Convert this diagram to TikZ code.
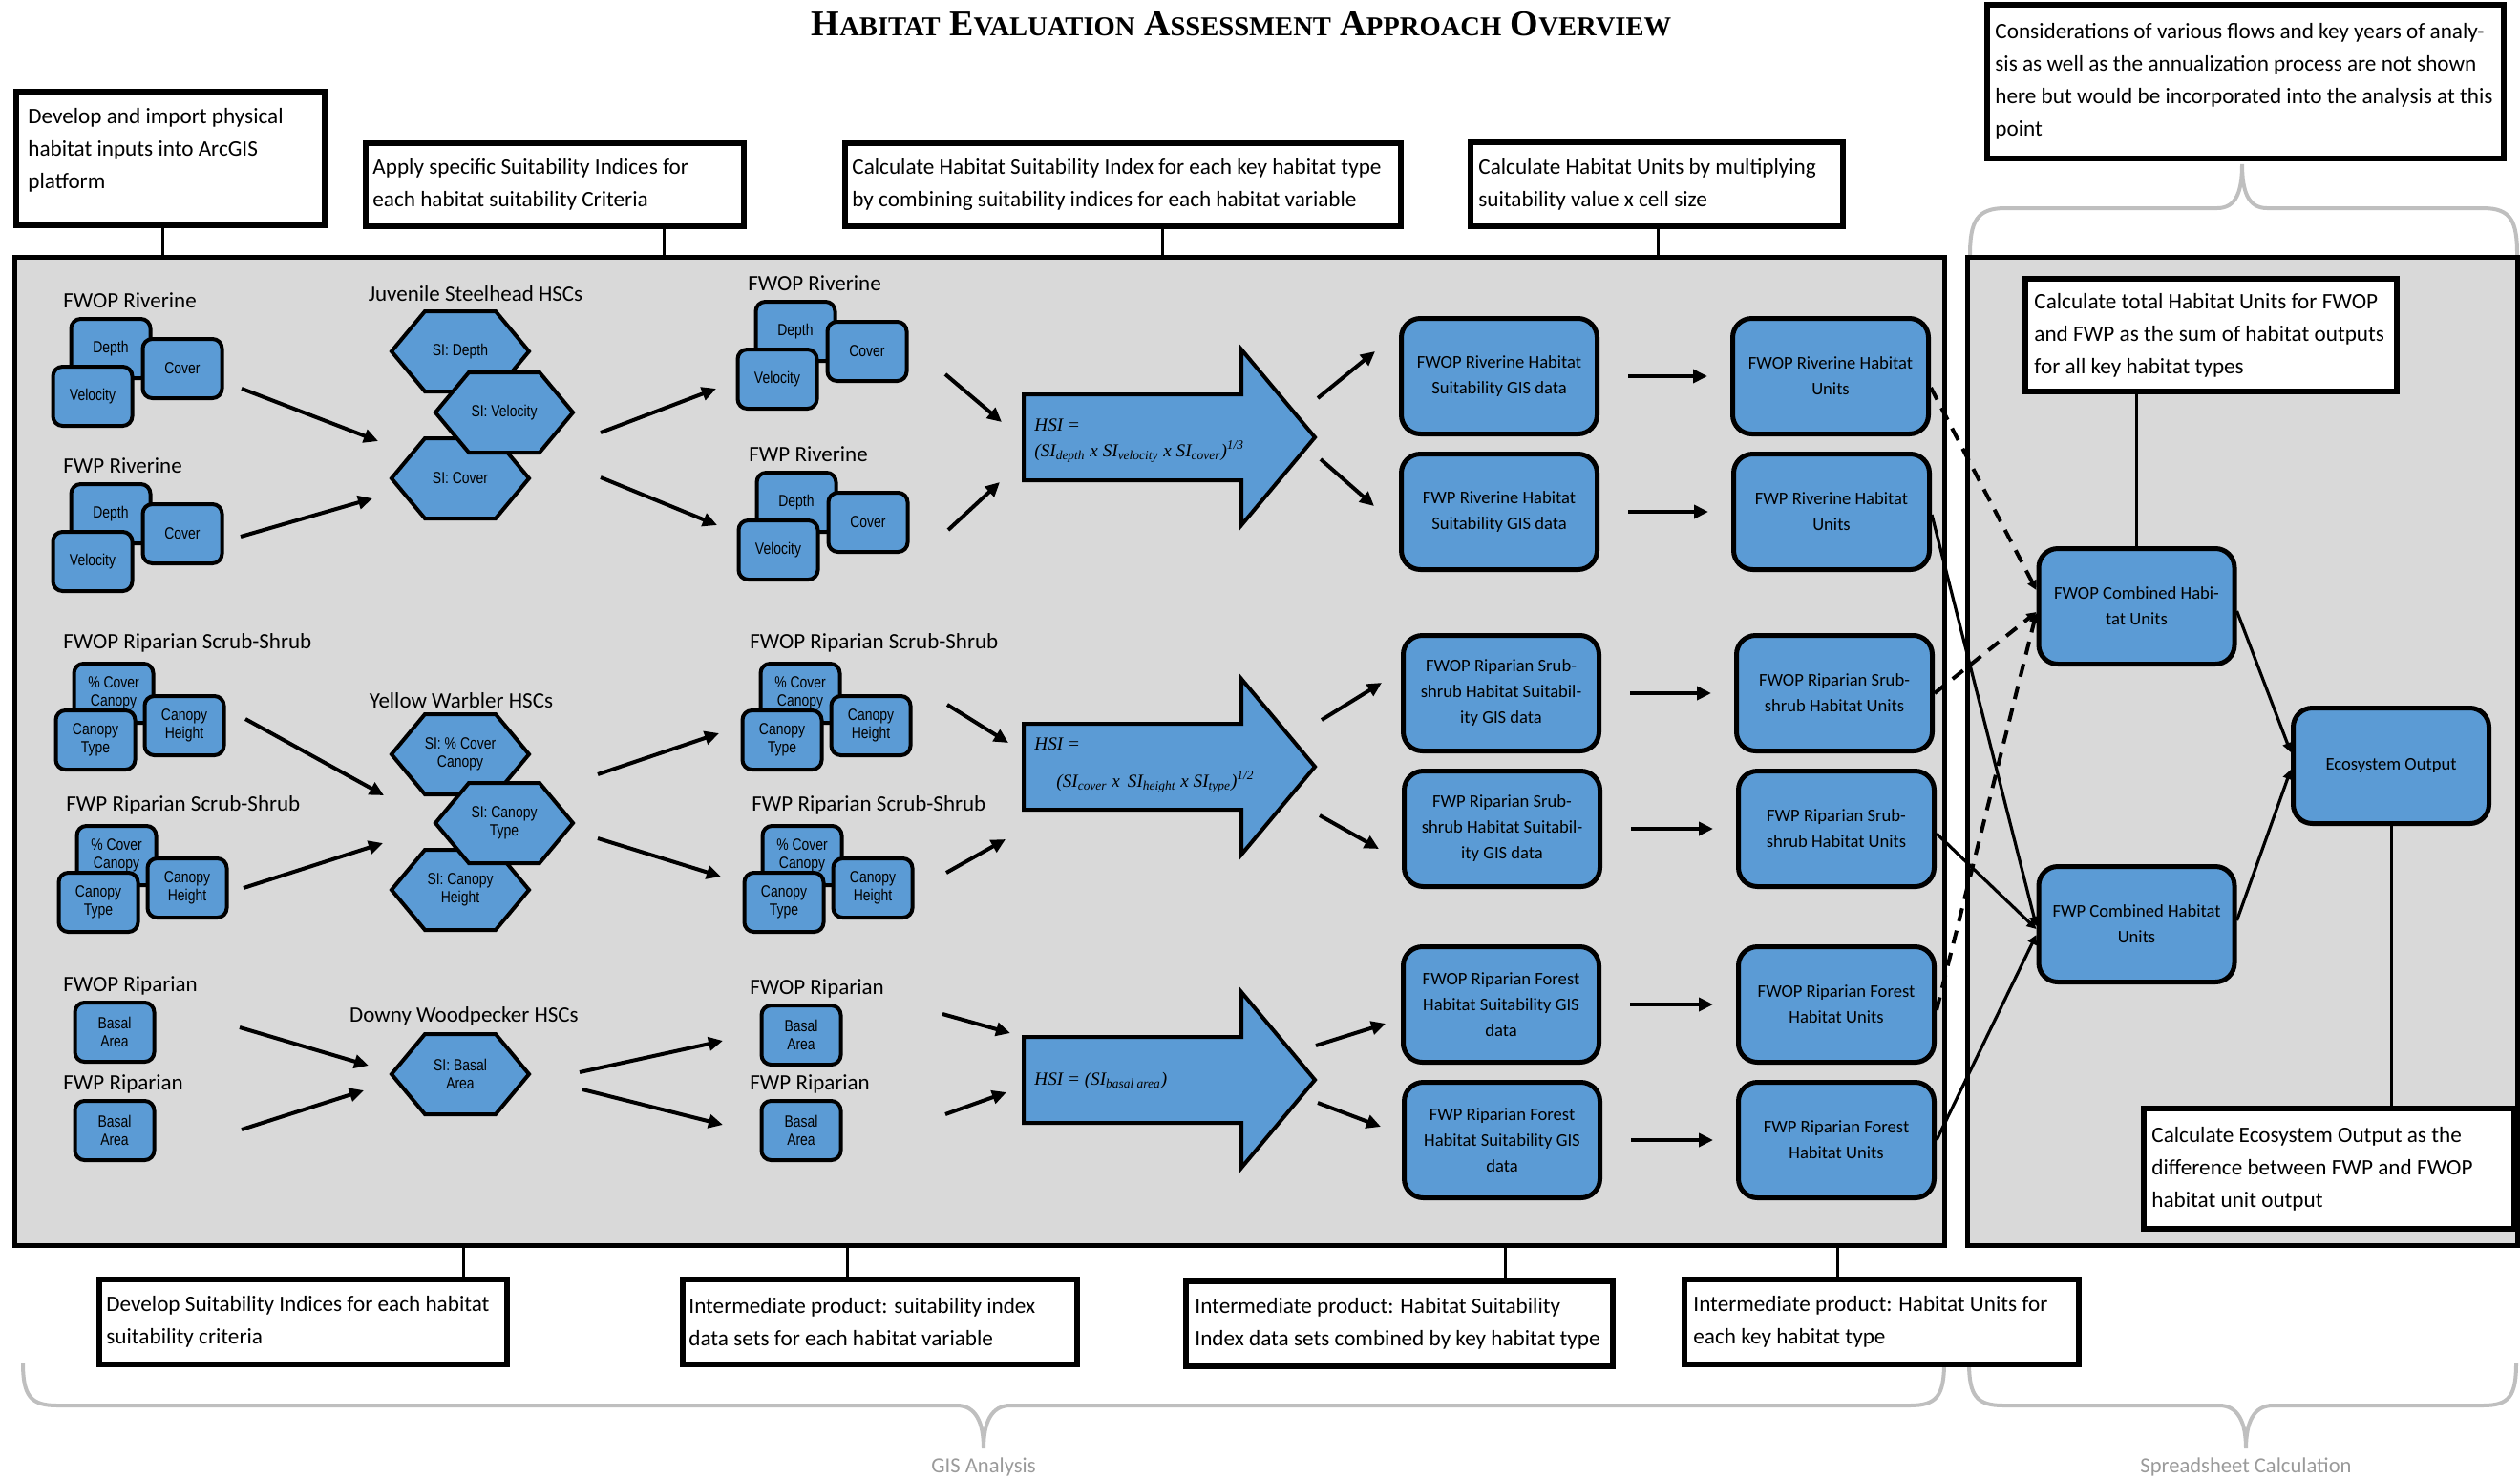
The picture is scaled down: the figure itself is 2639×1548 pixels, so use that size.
\documentclass[tikz,border=0pt]{standalone}
\usepackage{fontspec}
\setmainfont{Carlito}
\newfontfamily\narrowf[FakeStretch=0.82]{Liberation Sans}
\newfontfamily\titlef{Liberation Serif}
\newfontfamily\formulaf{Liberation Serif}
\usetikzlibrary{arrows.meta,calc}
\definecolor{panelgray}{HTML}{D9D9D9}
\definecolor{hblue}{HTML}{5B9BD5}
\definecolor{bracegray}{HTML}{BFBFBF}
\definecolor{labelgray}{HTML}{9A9A9A}
\newcommand{\tsmall}[1]{{\fontsize{14.3}{19}\selectfont #1}}
\tikzset{
 gisbg/.style={draw, line width=2.5pt, fill=panelgray},
 notebox/.style={draw, line width=3pt, fill=white},
 notetext/.style={anchor=west, inner sep=0pt, align=left, font=\fontsize{11.6}{17}\selectfont},
 grplabel/.style={anchor=west, inner sep=0pt, font=\fontsize{11.5}{13}\selectfont},
 smallbox/.style={draw, line width=2pt, fill=hblue, rounded corners=5pt, minimum width=41.5pt, minimum height=31pt, align=center, font=\narrowf\fontsize{8.5}{9.5}\selectfont, inner sep=1pt},
 hextext/.style={align=center, inner sep=0pt, font=\narrowf\fontsize{8.5}{9.5}\selectfont},
 hexshape/.style={draw, line width=2pt, fill=hblue, line join=miter},
 bigbox/.style={draw, line width=2.5pt, fill=hblue, rounded corners=10pt, minimum width=102.5pt, minimum height=60.5pt, align=center, font=\fontsize{9.3}{13.5}\selectfont, inner sep=2pt},
 arr/.style={line width=2pt, -{Triangle[length=7.5pt,width=7pt]}},
 thinarr/.style={line width=1.6pt, -{Triangle[length=5pt,width=5pt]}},
 dasharr/.style={thinarr, line width=2pt, dash pattern=on 7pt off 5pt},
 link/.style={line width=1.5pt},
 bracepath/.style={draw=bracegray, line width=2pt},
 bracelabel/.style={text=labelgray, inner sep=0pt, font=\fontsize{11.3}{13}\selectfont},
 blockarrow/.style={draw, line width=2pt, fill=hblue, line join=miter},
 formula/.style={anchor=west, inner sep=0pt, font=\formulaf\itshape\fontsize{9.6}{11}\selectfont},
}
\newcommand{\rivgrp}[4]{%
  \node[grplabel] (#1lab) at (#2,#3) {#4};
  \node[smallbox] (#1d) at ({#2+50},{#3+50}) {Depth};
  \node[smallbox] (#1c) at ({#2+125},{#3+71}) {Cover};
  \node[smallbox] (#1v) at ({#2+31},{#3+100}) {Velocity};
}
\newcommand{\scrgrp}[4]{%
  \node[grplabel] (#1lab) at (#2,#3) {#4};
  \node[smallbox] (#1p) at ({#2+53},{#3+53}) {\% Cover\\Canopy};
  \node[smallbox] (#1h) at ({#2+127},{#3+87}) {Canopy\\Height};
  \node[smallbox] (#1t) at ({#2+34},{#3+102}) {Canopy\\Type};
}
\newcommand{\forgrp}[4]{%
  \node[grplabel] (#1lab) at (#2,#3) {#4};
  \node[smallbox] (#1b) at ({#2+54},{#3+49}) {Basal\\Area};
}
\newcommand{\hexnode}[4]{%
  \path[hexshape] ({#2-72},#3) -- ({#2-37},{#3-42}) -- ({#2+37},{#3-42}) -- ({#2+72},#3) -- ({#2+37},{#3+42}) -- ({#2-37},{#3+42}) -- cycle;
  \node[hextext] (#1) at (#2,#3) {#4};
}
\newcommand{\blockarr}[1]{%
  \path[blockarrow] (1072,{#1-45}) -- (1300,{#1-45}) -- (1300,{#1-92}) -- (1377,#1) -- (1300,{#1+92}) -- (1300,{#1+45}) -- (1072,{#1+45}) -- cycle;
}
\begin{document}
\begin{tikzpicture}[x=0.5pt,y=-0.5pt]
\useasboundingbox (0,0) rectangle (2639,1548);
% title
\node[anchor=base, inner sep=0pt, font=\titlef\bfseries\fontsize{19}{19}\selectfont] (title) at (1300,37)
 {H\tsmall{ABITAT} E\tsmall{VALUATION} A\tsmall{SSESSMENT} A\tsmall{PPROACH} O\tsmall{VERVIEW}};
% braces
\path[bracepath] (2063,267) .. controls (2063,232) and (2070,218) .. (2100,218) -- (2322,218) .. controls (2342,218) and (2348,200) .. (2348,172) .. controls (2348,200) and (2354,218) .. (2374,218) -- (2600,218) .. controls (2630,218) and (2636,232) .. (2636,267);
\path[bracepath] (24,1427) .. controls (24,1462) and (32,1472) .. (60,1472) -- (1002,1472) .. controls (1022,1472) and (1030,1490) .. (1030,1517) .. controls (1030,1490) and (1038,1472) .. (1058,1472) -- (2000,1472) .. controls (2028,1472) and (2036,1462) .. (2036,1427);
\path[bracepath] (2062,1427) .. controls (2062,1462) and (2070,1472) .. (2098,1472) -- (2324,1472) .. controls (2344,1472) and (2352,1490) .. (2352,1517) .. controls (2352,1490) and (2360,1472) .. (2380,1472) -- (2600,1472) .. controls (2628,1472) and (2635,1462) .. (2635,1427);
\node[bracelabel] (gislab) at (1030,1536) {GIS Analysis};
\node[bracelabel] (sslab) at (2352,1536) {Spreadsheet Calculation};
% panels
\node[gisbg, minimum width=1010.5pt, minimum height=517.5pt] (gis) at (1025.5,786.5) {};
\node[gisbg, minimum width=288pt, minimum height=517.5pt] (ss) at (2348,786.5) {};
% top notes
\node[notebox, minimum width=161.5pt, minimum height=70pt] (n1) at (178.5,166) {};
\node[notetext] (n1t) at ([xshift=7.5pt, yshift=4.5pt]n1.west) {Develop and import physical\\habitat inputs into ArcGIS\\platform};
\node[notebox, minimum width=198pt, minimum height=43.5pt] (n2) at (581,193.5) {};
\node[notetext] (n2t) at ([xshift=5pt]n2.west) {Apply specific Suitability Indices for\\each habitat suitability Criteria};
\node[notebox, minimum width=291pt, minimum height=43.5pt] (n3) at (1176,193.5) {};
\node[notetext] (n3t) at ([xshift=5pt]n3.west) {Calculate Habitat Suitability Index for each key habitat type\\by combining suitability indices for each habitat variable};
\node[notebox, minimum width=195pt, minimum height=44pt] (n4) at (1735,193) {};
\node[notetext] (n4t) at ([xshift=5.5pt]n4.west) {Calculate Habitat Units by multiplying\\suitability value x cell size};
\node[notebox, minimum width=270.5pt, minimum height=80.5pt] (n5) at (2351.5,85.5) {};
\node[notetext] (n5t) at ([xshift=5.5pt]n5.west) {Considerations of various flows and key years of analy-\\sis as well as the annualization process are not shown\\here but would be incorporated into the analysis at this\\point};
\coordinate (c1) at ([xshift=-4.25pt]n1.south);
\coordinate (c2) at ([xshift=57pt]n2.south);
\coordinate (c3) at ([xshift=20.5pt]n3.south);
\coordinate (c4) at ([xshift=0.5pt]n4.south);
\foreach \c in {c1,c2,c3,c4} {\draw[link] (\c) -- (\c |- gis.north);}
% bottom notes
\node[notebox, minimum width=213.5pt, minimum height=44.5pt] (b1) at (317.5,1384.5) {};
\node[notetext] (b1t) at ([xshift=5pt]b1.west) {Develop Suitability Indices for each habitat\\suitability criteria};
\node[notebox, minimum width=206.5pt, minimum height=44.5pt] (b2) at (921.5,1384.5) {};
\node[notetext] (b2t) at ([xshift=4.5pt]b2.west) {Intermediate product: suitability index\\data sets for each habitat variable};
\node[notebox, minimum width=223.5pt, minimum height=44.5pt] (b3) at (1465.5,1386.5) {};
\node[notetext] (b3t) at ([xshift=6pt]b3.west) {Intermediate product: Habitat Suitability\\Index data sets combined by key habitat type};
\node[notebox, minimum width=206.5pt, minimum height=44.5pt] (b4) at (1970.5,1384.5) {};
\node[notetext] (b4t) at ([xshift=6pt]b4.west) {Intermediate product: Habitat Units for\\each key habitat type};
\coordinate (d1) at ([xshift=84pt]b1.north);
\coordinate (d2) at ([xshift=-17pt]b2.north);
\coordinate (d3) at ([xshift=55.5pt]b3.north);
\coordinate (d4) at ([xshift=-23pt]b4.north);
\foreach \c in {d1,d2,d3,d4} {\draw[link] (\c) -- (\c |- gis.south);}
% input groups
\rivgrp{ra}{66}{315}{FWOP Riverine}
\rivgrp{rb}{66}{488}{FWP Riverine}
\scrgrp{sa}{66}{673}{FWOP Riparian Scrub-Shrub}
\scrgrp{sb}{69}{843}{FWP Riparian Scrub-Shrub}
\forgrp{fa}{66}{1032}{FWOP Riparian}
\forgrp{fb}{66}{1135}{FWP Riparian}
% HSC groups
\node[grplabel, anchor=center] (hsc1) at (498,308) {Juvenile Steelhead HSCs};
\hexnode{h1}{482}{368}{SI: Depth}
\hexnode{h3}{482}{501}{SI: Cover}
\hexnode{h2}{528}{432}{SI: Velocity}
\node[grplabel, anchor=center] (hsc2) at (483,734) {Yellow Warbler HSCs};
\hexnode{h4}{482}{790}{SI: \% Cover\\Canopy}
\hexnode{h6}{482}{932}{SI: Canopy\\Height}
\hexnode{h5}{528}{862}{SI: Canopy\\Type}
\node[grplabel, anchor=center] (hsc3) at (486,1064) {Downy Woodpecker HSCs};
\hexnode{h7}{482}{1125}{SI: Basal\\Area}
% intermediate groups
\rivgrp{rc}{783}{297}{FWOP Riverine}
\rivgrp{rd}{784}{476}{FWP Riverine}
\scrgrp{sc}{785}{673}{FWOP Riparian Scrub-Shrub}
\scrgrp{sd}{787}{843}{FWP Riparian Scrub-Shrub}
\forgrp{fc}{785}{1035}{FWOP Riparian}
\forgrp{fd}{785}{1135}{FWP Riparian}
% block arrows with formulas
\blockarr{458}
\blockarr{803}
\blockarr{1131}
\node[formula] (f1a) at (1083,445) {HSI =};
\node[formula] (f1b) at (1083,473) {(SI\textsubscript{depth} x SI\textsubscript{velocity} x SI\textsubscript{cover})\textsuperscript{1/3}};
\node[formula] (f2a) at (1083,779) {HSI =};
\node[formula] (f2b) at (1106,819) {(SI\textsubscript{cover} x\, SI\textsubscript{height} x SI\textsubscript{type})\textsuperscript{1/2}};
\node[formula] (f3) at (1083,1132) {HSI = (SI\textsubscript{basal area})};
% suitability GIS data
\node[bigbox] (hs1) at (1570,394) {FWOP Riverine Habitat\\Suitability GIS data};
\node[bigbox] (hs2) at (1570,536) {FWP Riverine Habitat\\Suitability GIS data};
\node[bigbox] (hs3) at (1572,726) {FWOP Riparian Srub-\\shrub Habitat Suitabil-\\ity GIS data};
\node[bigbox] (hs4) at (1573,868) {FWP Riparian Srub-\\shrub Habitat Suitabil-\\ity GIS data};
\node[bigbox] (hs5) at (1572,1052) {FWOP Riparian Forest\\Habitat Suitability GIS\\data};
\node[bigbox] (hs6) at (1573,1194) {FWP Riparian Forest\\Habitat Suitability GIS\\data};
% habitat units
\node[bigbox] (hu1) at (1917,394) {FWOP Riverine Habitat\\Units};
\node[bigbox] (hu2) at (1918,536) {FWP Riverine Habitat\\Units};
\node[bigbox] (hu3) at (1921,726) {FWOP Riparian Srub-\\shrub Habitat Units};
\node[bigbox] (hu4) at (1923,868) {FWP Riparian Srub-\\shrub Habitat Units};
\node[bigbox] (hu5) at (1923,1052) {FWOP Riparian Forest\\Habitat Units};
\node[bigbox] (hu6) at (1923,1194) {FWP Riparian Forest\\Habitat Units};
\foreach \i in {1,...,6} {\draw[arr, shorten <=15pt, shorten >=12pt] (hs\i.east) -- (hu\i.west);}
% arrows between groups
\foreach \nm/\xa/\ya/\xb/\yb in {
 a1/253/407/396/462, a2/252/562/390/522, a3/257/753/402/833, a4/255/930/401/883, a5/251/1076/386/1116, a6/253/1183/381/1142,
 b1/629/453/750/407, b2/629/500/751/550, b3/626/811/753/768, b4/626/878/755/918, b5/607/1123/757/1090, b6/610/1141/757/1178,
 c1/990/392/1049/442, c2/993/555/1047/505, c3/992/738/1056/778, c4/991/914/1053/879, c5/987/1062/1058/1082, c6/990/1167/1054/1144,
 d1/1380/417/1440/368, d2/1383/481/1439/530, d3/1384/754/1447/715, d4/1382/854/1444/889, d5/1378/1095/1451/1072, d6/1380/1155/1446/1180}
{
 \coordinate (s\nm) at (\xa,\ya);
 \coordinate (e\nm) at (\xb,\yb);
 \draw[arr] (s\nm) -- (e\nm);
}
% spreadsheet part
\node[notebox, minimum width=194.5pt, minimum height=59pt] (tot) at (2315.5,351) {};
\node[notetext] (tott) at ([xshift=6pt]tot.west) {Calculate total Habitat Units for FWOP\\and FWP as the sum of habitat outputs\\for all key habitat types};
\node[bigbox] (fwopc) at (2237.5,635) {FWOP Combined Habi-\\tat Units};
\node[bigbox] (fwpc) at (2237.5,968) {FWP Combined Habitat\\Units};
\node[bigbox] (eco) at (2504,802) {Ecosystem Output};
\node[notebox, minimum width=194pt, minimum height=63pt] (ecob) at (2439,1224) {};
\node[notetext] (ecobt) at ([xshift=5.5pt]ecob.west) {Calculate Ecosystem Output as the\\difference between FWP and FWOP\\habitat unit output};
\draw[link] (fwopc.north) -- (fwopc.north |- tot.south);
\draw[link] (eco.south) -- (eco.south |- ecob.north);
\draw[dasharr] ([yshift=-6pt]hu1.east) -- ([yshift=8.5pt]fwopc.west);
\draw[dasharr] (hu3.east) -- ([yshift=-3pt]fwopc.west);
\draw[dasharr] ([yshift=-3pt]hu5.east) -- ([yshift=-3.5pt]fwopc.west);
\draw[thinarr] ([yshift=-1.5pt]hu2.east) -- ([yshift=-1pt]fwpc.west);
\draw[thinarr] ([yshift=-2.5pt]hu4.east) -- ([yshift=-2.5pt]fwpc.west);
\draw[thinarr] (hu6.east) -- ([yshift=-5.5pt]fwpc.west);
\draw[thinarr] ([yshift=-2.5pt]fwopc.east) -- ([yshift=7pt]eco.west);
\draw[thinarr] ([yshift=2pt]fwpc.east) -- ([yshift=-2pt]eco.west);
\end{tikzpicture}
\end{document}
